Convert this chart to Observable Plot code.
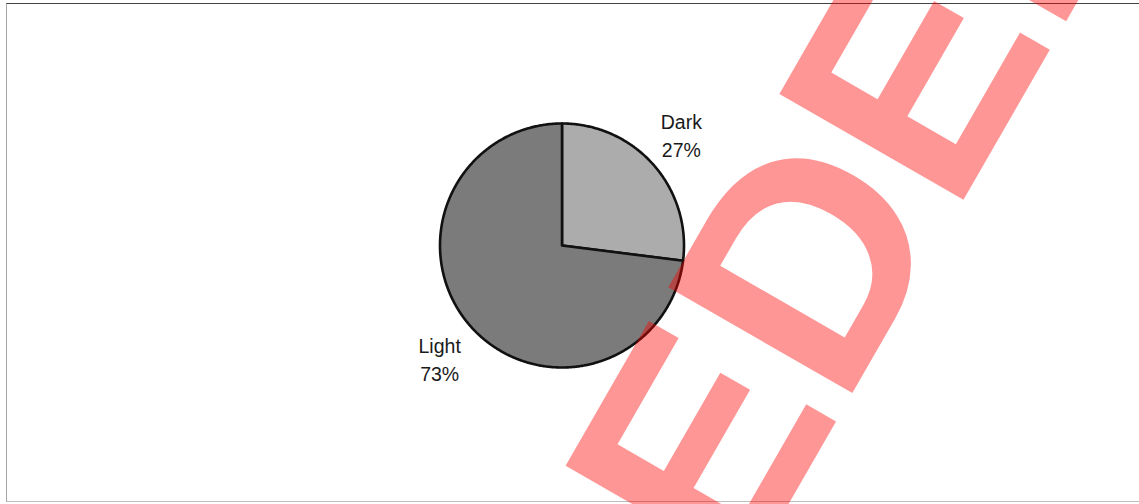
<!DOCTYPE html>
<html>
<head>
<meta charset="utf-8">
<script src="https://cdn.jsdelivr.net/npm/d3@7"></script>
<script src="https://cdn.jsdelivr.net/npm/@observablehq/plot@0.6"></script>
<style>
  html, body { margin: 0; padding: 0; background: #fff; }
  #wrap { position: relative; width: 1139px; height: 504px; overflow: hidden; background: #fff; }
  #frame { position: absolute; left: 6px; top: 3px; width: 1200px; height: 499px;
           border-top: 1.5px solid #444; border-left: 1px solid #a8a8a8; border-bottom: 1px solid #bdbdbd; box-sizing: border-box; }
  #chart { position: absolute; left: 0; top: 0; }
  #stamp { position: absolute; left: 0; top: 0; pointer-events: none; }
</style>
</head>
<body>
<div id="wrap">
  <div id="frame"></div>
  <div id="chart"></div>
  <svg id="stamp" width="1139" height="504"></svg>
</div>
<script>
// ---- data ----
const categories = ["Dark", "Light"];
const shares = [27, 73];
const sliceColors = ["#acacac", "#7b7b7b"];
const stampWord = "SUPERSEDED";

// ---- build table ----
const rows = categories.map((name, i) => ({ name, share: shares[i] }));
const arcs = d3.pie().sort(null).value(d => d.share)(rows);

// polygon outline for each slice (unit radius, angles clockwise from 12 o'clock)
const points = [];
for (const a of arcs) {
  const name = a.data.name;
  points.push({ name, x: 0, y: 0 });
  const n = Math.max(2, Math.ceil((a.endAngle - a.startAngle) / (Math.PI / 360)));
  for (let k = 0; k <= n; k++) {
    const t = a.startAngle + (a.endAngle - a.startAngle) * k / n;
    points.push({ name, x: Math.sin(t), y: Math.cos(t) });
  }
}

const labelRadius = 1.35;
const labelAngleShift = -1.4 * Math.PI / 180;
const labels = arcs.map(a => {
  const m = (a.startAngle + a.endAngle) / 2 + labelAngleShift;
  return {
    name: a.data.name,
    x: labelRadius * Math.sin(m),
    y: labelRadius * Math.cos(m),
    text: `${a.data.name}\n${a.data.share}%`
  };
});

const chart = Plot.plot({
  width: 1139,
  height: 504,
  margin: 0,
  x: { domain: [-1, 1], range: [439.5, 683.5], axis: null },
  y: { domain: [-1, 1], range: [367, 123], axis: null },
  color: { domain: categories, range: sliceColors },
  style: { background: "transparent", fontFamily: "'Liberation Sans', Arial, sans-serif" },
  marks: [
    Plot.line(points, {
      x: "x", y: "y", z: "name", fill: "name",
      stroke: "#111", strokeWidth: 2.6, strokeLinejoin: "round",
      curve: "linear-closed"
    }),
    Plot.text(labels, {
      x: "x", y: "y", text: "text",
      fontSize: 19.5, lineHeight: 1.456, fill: "#1a1a1a",
      textAnchor: "middle", lineAnchor: "middle", dx: -1.5, dy: 0.5
    })
  ]
});
document.getElementById("chart").appendChild(chart);

// ---- scanned-document stamp overlay ----
const stamp = d3.select("#stamp");
const sx = 106.6, sy = 1690, ang = -60.1;
stamp.append("text")
  .attr("x", 0).attr("y", 0)
  .attr("transform", `translate(${sx},${sy}) rotate(${ang})`)
  .attr("font-family", "'Liberation Sans', Arial, sans-serif")
  .attr("font-weight", "bold")
  .attr("font-size", 308.7)
  .attr("fill", "red")
  .attr("fill-opacity", 0.41)
  .text(stampWord);
</script>
</body>
</html>
